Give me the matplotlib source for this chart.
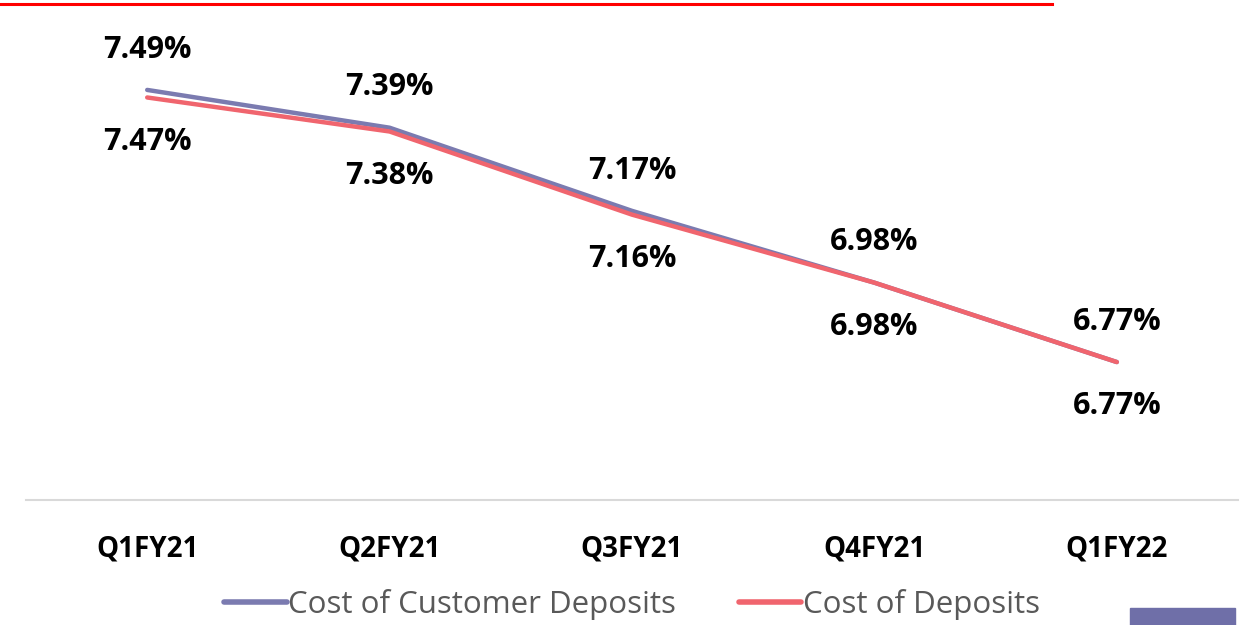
import numpy as np
import matplotlib.pyplot as plt
from matplotlib.patches import Rectangle
from matplotlib.lines import Line2D

quarters = ['Q1FY21', 'Q2FY21', 'Q3FY21', 'Q4FY21', 'Q1FY22']
cust_dep = [7.49, 7.39, 7.17, 6.98, 6.77]
all_dep = [7.47, 7.38, 7.16, 6.98, 6.77]

blue = '#7b7bb0'
red = '#f0656e'
fnt = 'Open Sans'

fig = plt.figure(figsize=(12.41, 6.25), dpi=100)
ax = fig.add_axes([26/1241, 0.2, 1212/1241, 0.768])

x = np.arange(len(quarters))
ax.plot(x, cust_dep, color=blue, lw=3.2, solid_capstyle='round', label='Cost of Customer Deposits')
ax.plot(x, all_dep, color=red, lw=3.2, solid_capstyle='round', label='Cost of Deposits')

for i in range(len(x)):
    ax.annotate(f'{cust_dep[i]:.2f}%', (x[i], cust_dep[i]), xytext=(0, 29), textcoords='offset points',
                ha='center', va='center', fontsize=22, fontweight='bold', family=fnt)
    ax.annotate(f'{all_dep[i]:.2f}%', (x[i], all_dep[i]), xytext=(0, -32), textcoords='offset points',
                ha='center', va='center', fontsize=22, fontweight='bold', family=fnt)

ax.set_xlim(-0.5, 4.5)
ax.set_ylim(6.405, 7.675)
ax.set_xticks(x)
ax.set_xticklabels(quarters, fontsize=20, fontweight='bold', family=fnt)
ax.tick_params(axis='x', length=0, pad=25)
ax.set_yticks([])
for s in ['top', 'right', 'left']:
    ax.spines[s].set_visible(False)
ax.spines['bottom'].set_color('#d9d9d9')
ax.spines['bottom'].set_linewidth(1.5)

leg = fig.legend(loc='center', bbox_to_anchor=(632/1241, 0.033), ncol=2, frameon=False,
                 handlelength=2.0, handletextpad=0.05, columnspacing=2.0,
                 prop={'family': fnt, 'size': 22.5})
for t in leg.get_texts():
    t.set_color('#595959')
for h in leg.legend_handles:
    h.set_linewidth(4)

# red rule along the top and the block in the corner
fig.add_artist(Line2D([0, 1052/1241], [1 - 4/625, 1 - 4/625], color='#ff0000', lw=2.2, transform=fig.transFigure))
fig.patches.append(Rectangle((1130/1241, 0), 105/1241, 17/625, color='#6f6fa8', transform=fig.transFigure, figure=fig))

fig.savefig('out.png', dpi=100)
